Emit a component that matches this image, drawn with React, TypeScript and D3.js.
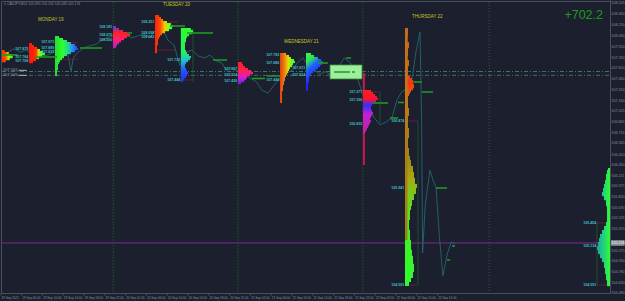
import React from "react";
import * as d3 from "d3";

const WIDTH = 625;
const HEIGHT = 301;

// ---------- axis data ----------
const axisPrices = [108.525, 108.36, 108.21, 108.06, 107.91, 107.76, 107.61, 107.46, 107.31, 107.16, 107.015, 106.865, 106.715, 106.565, 106.41, 106.26, 106.115, 105.975, 105.82, 105.67, 105.525, 105.37, 105.22, 105.075, 104.93, 104.78, 104.63, 104.48];
const timeTickHours = [2, 6, 10, 14, 18, 22, 26, 30, 34, 38, 42, 46, 50, 54, 58, 62, 66, 70, 74, 78, 82, 86];
const timeTickLabels = ["19 Sep 2021", "19 Sep 06:00", "19 Sep 10:00", "19 Sep 14:00", "19 Sep 18:00", "19 Sep 22:00", "20 Sep 02:00", "20 Sep 06:00", "20 Sep 10:00", "20 Sep 14:00", "20 Sep 18:00", "20 Sep 22:00", "21 Sep 02:00", "21 Sep 06:00", "21 Sep 10:00", "21 Sep 14:00", "21 Sep 18:00", "21 Sep 22:00", "22 Sep 02:00", "22 Sep 06:00", "22 Sep 10:00", "22 Sep 14:00"];
const separatorHours = [23.6, 47.6, 71.6, 95.9];

// ---------- price line ----------
const closeHours = [2.2, 3.4, 4.5, 5.7, 6.8, 8.0, 9.5, 10.7, 11.8, 13.0, 14.1, 14.9, 15.5, 15.9, 16.8, 18.0, 19.1, 20.3, 21.4, 22.6, 23.8, 24.9, 26.1, 27.2, 28.4, 29.5, 30.7, 31.8, 33.0, 34.1, 35.3, 36.4, 37.6, 38.8, 39.9, 41.1, 42.2, 43.4, 44.5, 45.3, 46.4, 47.6, 48.8, 49.9, 51.1, 52.2, 53.4, 54.5, 55.7, 56.8, 58.0, 59.1, 60.1, 61.1, 62.2, 63.4, 64.5, 65.7, 66.8, 68.0, 69.1, 70.3, 71.4, 72.6, 73.8, 74.9, 76.1, 77.2, 78.2, 79.1, 80.3, 81.1, 81.8, 82.6, 82.9, 83.1, 83.6, 84.5, 85.1, 85.7, 86.3, 87.0, 87.8, 88.6, 89.3];
const closePrices = [107.81, 107.83, 107.88, 107.83, 107.86, 107.81, 107.79, 107.78, 107.82, 107.90, 107.88, 107.79, 107.56, 107.75, 107.83, 107.89, 107.92, 107.94, 108.00, 108.04, 108.06, 108.03, 108.07, 108.03, 108.06, 108.08, 108.04, 108.14, 108.17, 108.00, 107.93, 107.65, 107.83, 107.86, 107.78, 107.75, 107.79, 107.71, 107.68, 107.58, 107.61, 107.56, 107.53, 107.47, 107.42, 107.30, 107.26, 107.37, 107.47, 107.53, 107.58, 107.69, 107.75, 107.64, 107.58, 107.53, 107.56, 107.50, 107.61, 107.75, 107.69, 107.53, 107.28, 107.05, 106.92, 106.82, 106.86, 106.92, 107.17, 107.28, 107.33, 107.47, 107.83, 108.11, 106.89, 105.04, 105.70, 106.19, 106.05, 105.94, 105.29, 104.72, 105.01, 105.19, 105.17];
const currentPrice = 105.176;
const referenceLevels = [107.562, 107.509];

// ---------- day labels ----------
const dayLabels = ["MONDAY 19", "TUESDAY 20", "WEDNESDAY 21", "THURSDAY 22"];
const dayLabelHours = [9.13, 33.17, 56.44, 81.06];
const dayLabelPrices = [108.265, 108.474, 107.952, 108.307];

// ---------- market profiles (TPO counts per row; [count, rows] = run) ----------
const ROW_STEP = 0.0278;
const profileHours = [1.0, 7.4, 12.4, 23.56, 31.63, 36.63, 47.6, 55.67, 60.67, 71.63, 79.71, 119.13];
const profileTopPrices = [107.861, 107.959, 108.056, 108.195, 108.348, 108.167, 107.694, 107.82, 107.82, 107.305, 108.167, 106.219];
const profileSides = [1, 1, 1, 1, 1, 1, 1, 1, 1, 1, 1, -1];
const profileTpo: (number | number[])[][] = [
  [9, 13, 16, 17, 14, 10],
  [3, 5, 8, 11, 14, 16, 13, 10, 7, 4],
  [4, 8, 12, 16, 20, 22, 23, 20, 16, 12, 9, 7, 5, 4, 3, 3, 3, 2, 2, 2],
  [3, 6, 10, 14, 17, 14, 11, 8, 6, 4, 3],
  [4, 6, 8, 12, 16, 18, 17, 14, 10, 7, 5, 4, 3, 3, 3, 2, 2, 2, 2],
  [10, 12, 11, 8, 6, 5, 5, 4, 4, 4, 4, 5, 6, 8, 10, 9, 7, 5, 4, 4, 5, 6, 7, 6, 5, 3, 2],
  [4, 5, 7, 10, 13, 15, 12, 9, 8, 6, 3],
  [6, 9, 11, 14, 15, 13, 12, 10, 9, 8, 7, 6, 5, 5, 4, 4, 3, 3, 3, 2, 2, 2, 2, 2, 2],
  [5, 8, 12, 15, 17, 16, 14, 12, 10, 7, 5, 4, 3, 3, 3, 2, 2, 2, 2],
  [8, 10, 12, 14, 15, 13, 11, 9, 8, 8, 9, 10, 9, 8, 7, 8, 7, 6, 5, 4, 3, 2],
  [[3, 4], [2, 3], [4, 3], [3, 4], [2, 2], [4, 3], [3, 5],
   5, 7, [8, 2], [9, 2], 8, 6, 5, 4,
   [3, 6], [4, 4], [3, 6], [4, 5], [3, 5], [4, 4],
   [5, 2], [6, 3], [8, 3], [9, 3], [10, 3], [12, 2], [11, 3], [9, 3], [7, 3], [6, 2],
   [5, 5], [4, 5], [5, 5], [6, 5],
   [7, 3], [8, 4], [9, 4], [8, 3], [6, 2], [4, 2]],
  [2, [3, 2], [4, 3],
   [5, 2], [6, 2], [7, 2], [8, 2], [6, 2],
   [4, 3], [3, 4], [3, 4],
   [4, 2], [6, 2], [8, 2], [10, 2], [11, 2], [12, 2], [13, 2], [12, 2], [10, 2],
   [8, 2], [6, 3], [5, 3], [4, 3], [3, 3]],
];

// profile price labels
const levelLabelHours = [7.4, 7.4, 7.4, 12.4, 12.4, 12.4, 23.56, 23.56, 23.56, 31.63, 31.63, 31.63, 36.63, 36.63, 47.6, 47.6, 47.6, 55.67, 55.67, 55.67, 60.67, 60.67, 71.63, 71.63, 71.63, 79.71, 79.71, 79.71, 116.63, 116.63, 116.63];
const levelLabelPrices = [107.875, 107.764, 107.708, 107.973, 107.889, 107.833, 108.181, 108.07, 108.0, 108.251, 108.098, 108.042, 107.722, 107.444, 107.597, 107.514, 107.43, 107.792, 107.68, 107.444, 107.611, 107.514, 107.277, 107.166, 106.832, 106.874, 105.941, 104.591, 105.454, 105.134, 104.591];

// stems
const stemHours = [71.63, 79.71];
const stemTopPrices = [107.541, 108.167];
const stemBottomPrices = [106.261, 105.218];

// POC extension segments
const pocStartHours = [1.83, 8.56, 17.21, 26.25, 34.52, 37.79, 42.79, 50.29, 53.17, 62.98, 68.37, 73.56, 76.83, 78.37, 81.25, 82.98, 85.67, 88.75, 87.79];
const pocEndHours = [5.29, 12.79, 21.44, 27.21, 37.4, 42.79, 45.48, 52.79, 55.67, 64.9, 69.33, 76.44, 78.37, 79.52, 82.98, 85.1, 87.79, 89.33, 88.37];
const pocPrices = [107.792, 107.764, 107.889, 108.098, 108.195, 108.098, 107.722, 107.465, 107.5, 107.68, 107.75, 107.124, 106.915, 107.131, 107.416, 107.277, 105.941, 105.134, 104.939];

// value-area edges
const vaStartHours = [13.37, 13.37, 32.02, 32.02, 36.63, 71.63, 79.71, 79.71, 116.63, 116.63];
const vaEndHours = [16.83, 16.83, 36.06, 35.48, 38.94, 74.9, 82.21, 82.21, 119.13, 119.13];
const vaPrices = [107.963, 107.732, 108.251, 107.861, 107.444, 107.277, 106.874, 104.591, 105.454, 104.591];
const vaEdgeHours = [36.63, 38.94, 74.9, 82.21, 116.63];
const vaEdgeTop = [108.167, 108.167, 107.277, 106.874, 105.454];
const vaEdgeBottom = [107.417, 107.417, 106.846, 104.591, 104.591];

// rectangle object
const boxHours = [65.29, 71.44];
const boxPrices = [107.653, 107.458];
const boxLineStart = [66.06, 69.52];
const boxLineEnd = [69.13, 70.1];
const boxLinePrice = 107.555;

// ---------- styles ----------
type GradStyle = { dir: "h" | "v" | "d"; stops: [number, string][] };
const profileStyles: GradStyle[] = [
  { dir: "h", stops: [[0, "#ff1a1a"], [0.55, "#ff4000"], [0.75, "#c8e000"], [1, "#30ff30"]] },
  { dir: "h", stops: [[0, "#ff1010"], [0.45, "#ff3000"], [0.6, "#d0e000"], [0.75, "#50ff30"], [1, "#20ff40"]] },
  { dir: "h", stops: [[0, "#20e030"], [0.35, "#30ff30"], [0.6, "#20d0a0"], [0.8, "#2080ff"], [1, "#2040ff"]] },
  { dir: "v", stops: [[0, "#4040ff"], [0.3, "#ff2020"], [0.6, "#ff2070"], [1, "#b020d0"]] },
  { dir: "h", stops: [[0, "#ff2010"], [0.3, "#ff5000"], [0.55, "#f0d000"], [0.75, "#80ff20"], [1, "#20ff40"]] },
  { dir: "v", stops: [[0, "#30ff30"], [0.45, "#20f060"], [0.6, "#20c0d0"], [0.8, "#2050ff"], [1, "#2030ff"]] },
  { dir: "v", stops: [[0, "#ff2020"], [0.45, "#ff2060"], [0.7, "#d020d0"], [1, "#7020e0"]] },
  { dir: "h", stops: [[0, "#e04010"], [0.3, "#f08010"], [0.55, "#e0e000"], [0.8, "#60ff20"], [1, "#30ff30"]] },
  { dir: "d", stops: [[0, "#30ff40"], [0.3, "#30e060"], [0.55, "#2060ff"], [1, "#2020ff"]] },
  { dir: "v", stops: [[0, "#ff2020"], [0.2, "#ff1030"], [0.35, "#3030ff"], [0.55, "#c020d0"], [1, "#c020a0"]] },
  { dir: "v", stops: [[0, "#c8641a"], [0.17, "#d86010"], [0.21, "#ff3010"], [0.25, "#e85a10"], [0.3, "#b8781a"], [0.5, "#9a8a14"], [0.58, "#a8a810"], [0.66, "#70d020"], [0.78, "#40f020"], [1, "#30ff30"]] },
  { dir: "h", stops: [[0, "#20a0a0"], [0.5, "#20d080"], [1, "#30ff30"]] },
];
const TPO_PX = 1;
const BG = "#1c1f2e";
const AXIS_COLOR = "#4a4f5f";
const AXIS_TEXT = "#8b90a0";
const LABEL_TEXT = "#3fc0c8";
const FONT = "'Liberation Sans', Arial, sans-serif";

function expand(list: (number | number[])[]): number[] {
  const out: number[] = [];
  list.forEach((e) => {
    if (Array.isArray(e)) for (let k = 0; k < e[1]; k++) out.push(e[0]);
    else out.push(e);
  });
  return out;
}

export default function App() {
  const x = d3.scaleLinear().domain([0, 120]).range([-9.5, 614.5]);
  const y = d3.scaleLinear().domain([104.48, 108.525]).range([293, 2.3]);
  const rowPx = y(108) - y(108 + ROW_STEP);

  const line = d3
    .line<number>()
    .x((_, i) => x(closeHours[i]))
    .y((d) => y(d));
  const pricePath = line(closePrices) || "";

  const profiles = profileHours.map((h, i) => {
    const widths = expand(profileTpo[i]).map((w) => w * TPO_PX);
    const ax = x(h);
    const side = profileSides[i];
    const top = profileTopPrices[i];
    const maxW = d3.max(widths) || 1;
    const y0 = y(top);
    const hgt = widths.length * rowPx;
    const gx0 = side > 0 ? ax : ax - maxW;
    const gx1 = side > 0 ? ax + maxW : ax;
    const st = profileStyles[i];
    const g =
      st.dir === "h"
        ? { x1: gx0, y1: y0, x2: gx1, y2: y0 }
        : st.dir === "v"
        ? { x1: gx0, y1: y0, x2: gx0, y2: y0 + hgt }
        : { x1: gx0, y1: y0, x2: gx1, y2: y0 + hgt / 2 };
    return { i, widths, ax, side, top, g, st };
  });

  const curY = y(currentPrice);

  return (
    <svg width={WIDTH} height={HEIGHT} style={{ display: "block", position: "absolute", left: 0, top: 0, background: BG }} fontFamily={FONT}>
      <defs>
        <clipPath id="plot">
          <rect x={2} y={2} width={608} height={291} />
        </clipPath>
        {profiles.map((p) => (
          <linearGradient key={p.i} id={`pg${p.i}`} gradientUnits="userSpaceOnUse" x1={p.g.x1} y1={p.g.y1} x2={p.g.x2} y2={p.g.y2}>
            {p.st.stops.map((s, k) => (
              <stop key={k} offset={s[0]} stopColor={s[1]} />
            ))}
          </linearGradient>
        ))}
        <linearGradient id="stem11" x1="0" y1="0" x2="0" y2="1">
          <stop offset="0" stopColor="#c86a1a" />
          <stop offset="0.3" stopColor="#c07818" />
          <stop offset="1" stopColor="#9a8010" />
        </linearGradient>
      </defs>
      <rect x={0} y={0} width={WIDTH} height={HEIGHT} fill={BG} />

      {/* title */}
      <text x={4} y={5} fontSize={3.4} fill={AXIS_TEXT}>▾ CADJPY,M15  105.095 105.232 105.085 105.176</text>

      <g clipPath="url(#plot)">
        {separatorHours.map((h, k) => (
          <line key={k} x1={x(h)} x2={x(h)} y1={2} y2={293} stroke={k === 3 ? "#4b505f" : "#1f4a2c"} strokeWidth={1} strokeDasharray={k === 3 ? "1 2" : "2 1"} />
        ))}

        {referenceLevels.map((p, k) => (
          <line key={k} x1={2} x2={610} y1={y(p)} y2={y(p)} stroke="#3f7465" strokeWidth={1} strokeDasharray="4 2 1 2" />
        ))}
        <text x={3} y={y(referenceLevels[0]) - 0.5} fontSize={4} fill="#9aa0aa">107.562 ▬▬</text>
        <text x={3} y={y(referenceLevels[1]) + 0.5} fontSize={4} fill="#9aa0aa">107.509 ▬▬</text>

        <line x1={2} x2={610} y1={curY} y2={curY} stroke="#7d2a8e" strokeWidth={1} />

        <path d={pricePath} fill="none" stroke="#22666e" strokeWidth={0.9} />

        {vaPrices.map((p, k) => (
          <line key={k} x1={x(vaStartHours[k])} x2={x(vaEndHours[k])} y1={y(p)} y2={y(p)} stroke="#7a1c3c" strokeWidth={0.8} />
        ))}
        {vaEdgeHours.map((h, k) => (
          <line key={k} x1={x(h)} x2={x(h)} y1={y(vaEdgeTop[k])} y2={y(vaEdgeBottom[k])} stroke="#1f5a2c" strokeWidth={0.8} />
        ))}

        <rect x={x(boxHours[0])} y={y(boxPrices[0])} width={x(boxHours[1]) - x(boxHours[0])} height={y(boxPrices[1]) - y(boxPrices[0])} fill="#9cf09c" stroke="#3c8c3c" strokeWidth={0.8} />
        {boxLineStart.map((h, k) => (
          <line key={k} x1={x(h)} x2={x(boxLineEnd[k])} y1={y(boxLinePrice)} y2={y(boxLinePrice)} stroke="#2a8a2a" strokeWidth={1.4} />
        ))}

        {stemHours.map((h, k) => (
          <rect key={k} x={x(h)} y={y(stemTopPrices[k])} width={k === 1 ? 2.5 : 2} height={y(stemBottomPrices[k]) - y(stemTopPrices[k])} fill={k === 0 ? "#d4104c" : "url(#stem11)"} />
        ))}

        {profiles.map((p) => (
          <g key={p.i} fill={`url(#pg${p.i})`}>
            {p.widths.map((w, r) => (
              <rect key={r} x={p.side > 0 ? p.ax : p.ax - w} y={y(p.top - r * ROW_STEP)} width={w} height={rowPx + 0.2} />
            ))}
          </g>
        ))}
        <rect x={x(stemHours[1])} y={y(stemTopPrices[1])} width={2.5} height={y(stemBottomPrices[1]) - y(stemTopPrices[1])} fill="url(#stem11)" />

        {pocPrices.map((p, k) => (
          <line key={k} x1={x(pocStartHours[k])} x2={x(pocEndHours[k])} y1={y(p)} y2={y(p)} stroke="#1f9a1f" strokeWidth={1.6} />
        ))}

        {levelLabelPrices.map((p, k) => (
          <text key={k} x={x(levelLabelHours[k]) - 0.8} y={y(p) + 1.3} fontSize={3.6} fontWeight="bold" fill={LABEL_TEXT} textAnchor="end">
            {p.toFixed(3)}
          </text>
        ))}

        {dayLabels.map((t, k) => (
          <text key={k} x={x(dayLabelHours[k])} y={y(dayLabelPrices[k])} fontSize={4.5} fill="#c8c820">
            {t}
          </text>
        ))}
      </g>

      <text x={603} y={19} fontSize={12.5} fill="#229a22" textAnchor="end">+702.2</text>

      <line x1={1.5} x2={610.5} y1={1.5} y2={1.5} stroke={AXIS_COLOR} />
      <line x1={1.5} x2={1.5} y1={1.5} y2={293.5} stroke={AXIS_COLOR} />
      <line x1={610.5} x2={610.5} y1={0} y2={293.5} stroke={AXIS_COLOR} />
      <line x1={1.5} x2={610.5} y1={293.5} y2={293.5} stroke={AXIS_COLOR} />

      {axisPrices
        .filter((p) => Math.abs(y(p) - curY) > 4.5)
        .map((p, k) => (
          <g key={k}>
            <line x1={610.5} x2={611.5} y1={y(p)} y2={y(p)} stroke={AXIS_COLOR} />
            <text x={611.6} y={Math.max(y(p) + 1.3, 4)} fontSize={3.6} fill={AXIS_TEXT}>
              {p.toFixed(3)}
            </text>
          </g>
        ))}
      <rect x={611} y={curY - 2.8} width={13.6} height={5.6} fill="#8d919b" />
      <text x={611.6} y={curY + 1.3} fontSize={3.6} fill="#f0f0f0">
        {currentPrice.toFixed(3)}
      </text>

      {timeTickHours.map((h, k) => (
        <g key={k}>
          <line x1={x(h)} x2={x(h)} y1={293.5} y2={295.5} stroke={AXIS_COLOR} />
          <text x={x(h) + 0.5} y={298.5} fontSize={3.1} fill={AXIS_TEXT}>
            {timeTickLabels[k]}
          </text>
        </g>
      ))}
    </svg>
  );
}
